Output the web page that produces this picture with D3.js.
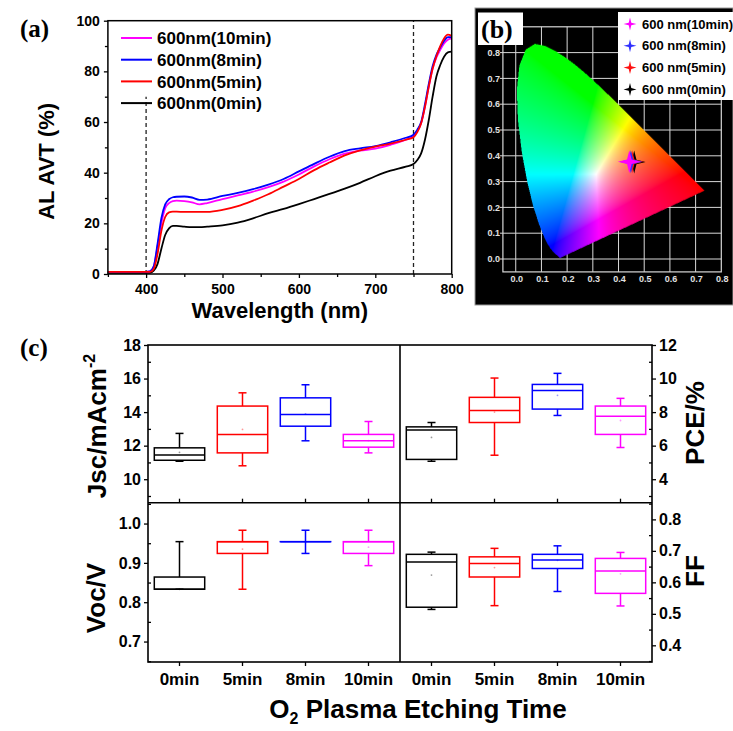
<!DOCTYPE html>
<html>
<head>
<meta charset="utf-8">
<script src="https://cdn.jsdelivr.net/npm/d3@7"></script>
<style>
  body { margin: 0; background: #fff; }
  svg text { font-family: Arial, "Liberation Sans", sans-serif; font-weight: bold; }
</style>
</head>
<body>
<svg id="fig" width="733" height="731"></svg>
<script>
// ---------- Data: (a) transmittance spectra ----------
const wavelength = [350, 380, 400, 405, 410, 415, 420, 425, 430, 435, 440, 450, 460, 470, 480, 500, 520, 540, 560, 580, 600, 620, 640, 660, 680, 700, 720, 740, 750, 755, 760, 765, 770, 775, 780, 785, 790, 795, 800];
const avt0min = [0.5, 0.5, 0.5, 0.5, 1.3, 4, 10, 15.4, 18, 19, 19, 18.7, 18.5, 18.5, 18.7, 19.2, 20.3, 22, 24, 25.7, 27.6, 29.6, 31.6, 33.7, 36, 38.6, 40.8, 42.4, 43.4, 45, 47.6, 53, 60.8, 70, 78, 82.5, 85.8, 87.5, 87.8];
const avt5min = [0.8, 0.8, 0.8, 0.8, 2, 8, 17, 22.5, 24.3, 24.6, 24.6, 24.5, 24.5, 24.5, 24.5, 25.3, 26.8, 29, 31.5, 34.5, 37.5, 41, 44, 46.8, 48.8, 50.3, 51.5, 53, 54, 56, 59.5, 66, 74, 81, 86, 90, 93, 94.5, 94];
const avt8min = [0.8, 0.8, 0.8, 1, 3, 12, 22, 27.5, 29.5, 30.3, 30.5, 30.6, 30.2, 29.3, 29.4, 30.8, 32, 33.5, 35.3, 37.5, 40.5, 43.5, 46.3, 48.5, 49.6, 50.5, 52, 53.8, 55, 57, 60, 67, 75, 82, 86.5, 89.5, 92, 93.5, 93.5];
const avt10min = [0.8, 0.8, 0.8, 1, 3, 11, 20, 26, 28, 28.8, 29, 28.8, 28.3, 27.5, 28, 29.6, 31, 32.5, 34.3, 36.5, 39.3, 42.5, 45.3, 47.5, 48.7, 49.5, 51, 53, 54.5, 56.5, 59.5, 66, 74, 81, 85.5, 88.5, 91, 92.5, 93];
const avtNames = ["600nm(10min)", "600nm(8min)", "600nm(5min)", "600nm(0min)"];
const avtColors = ["#ff00ff", "#0000ff", "#ff0000", "#000000"];
const avtSeries = [avt10min, avt8min, avt5min, avt0min];
const markedWavelengths = [400, 750];
const markedTop = [70, 100];

// ---------- Data: (b) CIE 1931 chromaticity ----------
const locusX = [0.1741, 0.1733, 0.1714, 0.1689, 0.1644, 0.1566, 0.1440, 0.1355, 0.1241, 0.1096, 0.0913, 0.0687, 0.0454, 0.0235, 0.0082, 0.0039, 0.0139, 0.0389, 0.0743, 0.1142, 0.1547, 0.1929, 0.2296, 0.2658, 0.3016, 0.3373, 0.3731, 0.4087, 0.4441, 0.4788, 0.5125, 0.5448, 0.5752, 0.6029, 0.6270, 0.6658, 0.6915, 0.7079, 0.7190, 0.7260, 0.7347];
const locusY = [0.0050, 0.0048, 0.0051, 0.0069, 0.0109, 0.0177, 0.0297, 0.0399, 0.0578, 0.0868, 0.1327, 0.2007, 0.2950, 0.4127, 0.5384, 0.6548, 0.7502, 0.8120, 0.8338, 0.8262, 0.8059, 0.7816, 0.7543, 0.7243, 0.6923, 0.6589, 0.6245, 0.5896, 0.5547, 0.5202, 0.4866, 0.4544, 0.4242, 0.3965, 0.3725, 0.3340, 0.3083, 0.2920, 0.2809, 0.2740, 0.2653];
const cieNames = ["600 nm(10min)", "600 nm(8min)", "600 nm(5min)", "600 nm(0min)"];
const cieColors = ["#ff00ff", "#3030ff", "#ff1010", "#000000"];
const cieX = [0.442, 0.448, 0.453, 0.461];
const cieY = [0.377, 0.377, 0.377, 0.376];
const cieTicks = [0, 0.1, 0.2, 0.3, 0.4, 0.5, 0.6, 0.7, 0.8];

// ---------- Data: (c) device parameters ----------
const etchTimes = ["0min", "5min", "8min", "10min"];
const boxColors = ["#000000", "#ff0000", "#0000ff", "#ff00ff"];

const jscLow = [11.07, 10.8, 12.29, 11.57];
const jscQ1 = [11.13, 11.57, 13.16, 11.91];
const jscMed = [11.45, 12.67, 13.86, 12.29];
const jscQ3 = [11.87, 14.36, 14.85, 12.67];
const jscHigh = [12.73, 15.15, 15.63, 13.44];
const jscMean = [11.6, 12.97, 13.9, 12.3];

const pceLow = [5.07, 5.43, 7.8, 5.89];
const pceQ1 = [5.18, 7.38, 8.18, 6.67];
const pceMed = [6.93, 8.1, 9.29, 7.76];
const pceQ3 = [7.12, 8.88, 9.65, 8.36];
const pceHigh = [7.38, 10.03, 10.31, 8.82];
const pceMean = [6.49, 8.0, 9.0, 7.5];

const vocLow = [0.833, 0.833, 0.924, 0.893];
const vocQ1 = [0.833, 0.924, 0.954, 0.924];
const vocMed = [0.833, 0.954, 0.954, 0.954];
const vocQ3 = [0.864, 0.954, 0.954, 0.954];
const vocHigh = [0.954, 0.983, 0.983, 0.983];
const vocMean = [0.833, 0.935, 0.954, 0.94];

const ffLow = [0.514, 0.526, 0.571, 0.525];
const ffQ1 = [0.521, 0.617, 0.644, 0.565];
const ffMed = [0.665, 0.66, 0.671, 0.636];
const ffQ3 = [0.689, 0.681, 0.689, 0.676];
const ffHigh = [0.696, 0.708, 0.716, 0.695];
const ffMean = [0.623, 0.647, 0.67, 0.627];

const svg = d3.select("#fig");

function styleAxis(g, size) {
  g.select(".domain").remove();
  g.selectAll(".tick line").attr("stroke", "#000").attr("stroke-width", 1.3);
  g.selectAll(".tick text").attr("font-size", size).attr("font-weight", "bold").attr("fill", "#000");
}

// ================= Panel (a) =================
const xA = d3.scaleLinear().domain([350, 800]).range([107.9, 451.7]);
const yA = d3.scaleLinear().domain([0, 100]).range([274, 20.7]);
const gA = svg.append("g");

gA.append("g").attr("transform", `translate(0,${yA(0)})`)
  .call(d3.axisBottom(xA).tickValues([400, 500, 600, 700, 800]).tickSize(4).tickPadding(6))
  .call(g => styleAxis(g, 14));
gA.append("g").attr("transform", `translate(0,${yA(0)})`)
  .call(d3.axisBottom(xA).tickValues([350, 450, 550, 650, 750]).tickSize(3).tickFormat(""))
  .call(g => styleAxis(g, 14));
gA.append("g").attr("transform", `translate(${xA(350)},0)`)
  .call(d3.axisLeft(yA).tickValues([0, 20, 40, 60, 80, 100]).tickSize(4).tickPadding(4))
  .call(g => styleAxis(g, 14));
gA.append("g").attr("transform", `translate(${xA(350)},0)`)
  .call(d3.axisLeft(yA).tickValues([10, 30, 50, 70, 90]).tickSize(3).tickFormat(""))
  .call(g => styleAxis(g, 14));

// dashed markers
gA.selectAll(".mark").data(markedWavelengths).enter().append("line")
  .attr("x1", d => xA(d)).attr("x2", d => xA(d))
  .attr("y1", yA(0)).attr("y2", (d, i) => yA(markedTop[i]))
  .attr("stroke", "#222").attr("stroke-width", 1.3).attr("stroke-dasharray", "4,3");

const lineA = d3.line().x((d, i) => xA(wavelength[i])).y(d => yA(d)).curve(d3.curveMonotoneX);
[3, 0, 1, 2].forEach(i => {
  gA.append("path").attr("d", lineA(avtSeries[i]))
    .attr("fill", "none").attr("stroke", avtColors[i]).attr("stroke-width", 1.8);
});

gA.append("rect").attr("x", xA(350)).attr("y", yA(100))
  .attr("width", xA(800) - xA(350)).attr("height", yA(0) - yA(100))
  .attr("fill", "none").attr("stroke", "#000").attr("stroke-width", 1.5);

const legA = gA.selectAll(".legA").data(avtNames).enter().append("g")
  .attr("transform", (d, i) => `translate(121,${38 + i * 21.7})`);
legA.append("line").attr("x1", 0).attr("x2", 31)
  .attr("stroke", (d, i) => avtColors[i]).attr("stroke-width", 2);
legA.append("text").attr("x", 36).attr("dy", "0.36em").attr("font-size", 17).text(d => d);

gA.append("text").attr("x", xA(575)).attr("y", 318).attr("text-anchor", "middle")
  .attr("font-size", 22).text("Wavelength (nm)");
gA.append("text").attr("transform", `translate(46,${yA(50) + 14}) rotate(-90)`)
  .attr("text-anchor", "middle").attr("dy", "0.36em").attr("font-size", 22).text("AL AVT (%)");
svg.append("text").attr("x", 20).attr("y", 37).attr("font-size", 25)
  .style("font-family", "'Liberation Serif', 'Times New Roman', serif").text("(a)");

// ================= Panel (b) =================
const gB = svg.append("g");
gB.append("rect").attr("x", 475).attr("y", 8).attr("width", 258).attr("height", 297)
  .attr("fill", "#000").attr("stroke", "#999").attr("stroke-width", 1);

const xC = d3.scaleLinear().domain([-0.05, 0.8]).range([502.9, 721.3]);
const yC = d3.scaleLinear().domain([-0.05, 0.9]).range([271.9, 26.8]);
const gridCol = "#d8d8d8";

// grid
gB.selectAll(".vg").data(cieTicks.slice(0, 8)).enter().append("line")
  .attr("x1", d => xC(d)).attr("x2", d => xC(d)).attr("y1", yC(-0.05)).attr("y2", yC(0.9))
  .attr("stroke", gridCol).attr("stroke-width", 1);
gB.selectAll(".hg").data(cieTicks).enter().append("line")
  .attr("x1", xC(-0.05) - 3).attr("x2", xC(0.8)).attr("y1", d => yC(d)).attr("y2", d => yC(d))
  .attr("stroke", gridCol).attr("stroke-width", 1);
gB.append("rect").attr("x", xC(-0.05)).attr("y", yC(0.9))
  .attr("width", xC(0.8) - xC(-0.05)).attr("height", yC(-0.05) - yC(0.9))
  .attr("fill", "none").attr("stroke", gridCol).attr("stroke-width", 1.2);

// gamut fill
(function drawGamut() {
  const x0 = xC.range()[0], y0 = yC.range()[1];
  const cw = Math.ceil(xC.range()[1] - x0), ch = Math.ceil(yC.range()[0] - y0);
  const ss = 2;
  const canvas = document.createElement("canvas");
  canvas.width = cw * ss; canvas.height = ch * ss;
  const ctx = canvas.getContext("2d");
  const img = ctx.createImageData(cw * ss, ch * ss);
  const poly = locusX.map((v, i) => [v, locusY[i]]);
  const gam = v => Math.round(255 * Math.pow(Math.max(0, Math.min(1, v)), 1 / 1.5));
  for (let j = 0; j < ch * ss; j++) {
    for (let i = 0; i < cw * ss; i++) {
      const xv = xC.invert(x0 + (i + 0.5) / ss), yv = yC.invert(y0 + (j + 0.5) / ss);
      if (yv <= 0.001 || !d3.polygonContains(poly, [xv, yv])) continue;
      const X = xv / yv, Y = 1, Z = (1 - xv - yv) / yv;
      let r = 3.2406 * X - 1.5372 * Y - 0.4986 * Z;
      let g = -0.9689 * X + 1.8758 * Y + 0.0415 * Z;
      let b = 0.0557 * X - 0.2040 * Y + 1.0570 * Z;
      r = Math.max(0, r); g = Math.max(0, g); b = Math.max(0, b);
      const m = Math.max(r, g, b) || 1;
      const k = 4 * (j * cw * ss + i);
      img.data[k] = gam(r / m); img.data[k + 1] = gam(g / m); img.data[k + 2] = gam(b / m);
      img.data[k + 3] = 255;
    }
  }
  ctx.putImageData(img, 0, 0);
  gB.append("image").attr("href", canvas.toDataURL())
    .attr("x", x0).attr("y", y0).attr("width", cw).attr("height", ch);
})();

const labFont = "'Liberation Sans Narrow', 'Arial Narrow', Arial, sans-serif";
gB.selectAll(".xl").data(cieTicks).enter().append("text")
  .attr("x", d => xC(d) + 1).attr("y", 282).attr("text-anchor", "middle")
  .attr("font-size", 9).attr("fill", "#e0e0e0").style("font-family", labFont)
  .text(d => d.toFixed(1));
gB.selectAll(".yl").data(cieTicks).enter().append("text")
  .attr("x", xC(-0.05) - 3).attr("y", d => yC(d)).attr("dy", "0.36em").attr("text-anchor", "end")
  .attr("font-size", 9).attr("fill", "#e0e0e0").style("font-family", labFont)
  .text(d => d.toFixed(1));

const star4 = {
  draw(context, size) {
    const r = Math.sqrt(size), ri = r * 0.2;
    context.moveTo(0, -r); context.lineTo(ri, -ri); context.lineTo(r, 0); context.lineTo(ri, ri);
    context.lineTo(0, r); context.lineTo(-ri, ri); context.lineTo(-r, 0); context.lineTo(-ri, -ri);
    context.closePath();
  }
};
[3, 2, 1, 0].forEach(i => {
  gB.append("path").attr("d", d3.symbol().type(star4).size(130)())
    .attr("transform", `translate(${xC(cieX[i])},${yC(cieY[i])})`)
    .attr("fill", cieColors[i]);
});

// legend (b)
gB.append("rect").attr("x", 618).attr("y", 12).attr("width", 120).attr("height", 88)
  .attr("fill", "#fff");
const legB = gB.selectAll(".legB").data(cieNames).enter().append("g")
  .attr("transform", (d, i) => `translate(630,${24 + i * 21.8})`);
legB.append("path").attr("d", d3.symbol().type(star4).size(42)())
  .attr("fill", (d, i) => cieColors[i]);
legB.append("text").attr("x", 12).attr("dy", "0.36em").attr("font-size", 13).text(d => d);

gB.append("rect").attr("x", 478).attr("y", 12.5).attr("width", 45).attr("height", 32.5).attr("fill", "#fff");
gB.append("text").attr("x", 481).attr("y", 38).attr("font-size", 26)
  .style("font-family", "'Liberation Serif', 'Times New Roman', serif").text("(b)");

// ================= Panel (c) =================
const gC = svg.append("g");
const xLeft = d3.scaleBand().domain(etchTimes).range([148, 400]);
const xRight = d3.scaleBand().domain(etchTimes).range([400, 652]);
const yTop = [502.7, 345], yBot = [662, 502.7];

const panels = [
  { x: xLeft, yr: yTop, dom: [8.6, 18], major: [10, 12, 14, 16, 18], minor: [9, 11, 13, 15, 17], fmt: d3.format("d"), side: "left",
    low: jscLow, q1: jscQ1, med: jscMed, q3: jscQ3, high: jscHigh, mean: jscMean },
  { x: xRight, yr: yTop, dom: [2.6, 12], major: [4, 6, 8, 10, 12], minor: [3, 5, 7, 9, 11], fmt: d3.format("d"), side: "right",
    low: pceLow, q1: pceQ1, med: pceMed, q3: pceQ3, high: pceHigh, mean: pceMean },
  { x: xLeft, yr: yBot, dom: [0.648, 1.053], major: [0.7, 0.8, 0.9, 1.0], minor: [0.65, 0.75, 0.85, 0.95, 1.05], fmt: d3.format(".1f"), side: "left",
    low: vocLow, q1: vocQ1, med: vocMed, q3: vocQ3, high: vocHigh, mean: vocMean },
  { x: xRight, yr: yBot, dom: [0.347, 0.853], major: [0.4, 0.5, 0.6, 0.7, 0.8], minor: [0.35, 0.45, 0.55, 0.65, 0.75, 0.85], fmt: d3.format(".1f"), side: "right",
    low: ffLow, q1: ffQ1, med: ffMed, q3: ffQ3, high: ffHigh, mean: ffMean }
];

panels.forEach((p, pi) => {
  const y = d3.scaleLinear().domain(p.dom).range(p.yr);
  const ax = p.side === "left" ? d3.axisLeft : d3.axisRight;
  const xPos = p.side === "left" ? 148 : 652;
  gC.append("g").attr("transform", `translate(${xPos},0)`)
    .call(ax(y).tickValues(p.major).tickFormat(p.fmt).tickSize(4).tickPadding(3))
    .call(g => styleAxis(g, 16));
  gC.append("g").attr("transform", `translate(${xPos},0)`)
    .call(ax(y).tickValues(p.minor).tickFormat("").tickSize(-3))
    .call(g => styleAxis(g, 16));

  // category ticks on the bottom edge of each panel
  const bottom = p.yr[0];
  const up = pi < 2 ? -4 : 4;
  gC.selectAll(null).data(etchTimes).enter().append("line")
    .attr("x1", d => p.x(d) + p.x.bandwidth() / 2).attr("x2", d => p.x(d) + p.x.bandwidth() / 2)
    .attr("y1", bottom).attr("y2", bottom + up).attr("stroke", "#000").attr("stroke-width", 1.3);

  const bw = p.x.bandwidth() * 0.8, cap = 8;
  const box = gC.selectAll(null).data(etchTimes).enter().append("g")
    .attr("transform", d => `translate(${p.x(d) + p.x.bandwidth() / 2},0)`)
    .attr("stroke", (d, i) => boxColors[i]).attr("stroke-width", 1.5).attr("fill", "none");
  box.append("line").attr("y1", (d, i) => y(p.q3[i])).attr("y2", (d, i) => y(p.high[i]));
  box.append("line").attr("y1", (d, i) => y(p.q1[i])).attr("y2", (d, i) => y(p.low[i]));
  box.append("line").attr("x1", -cap / 2).attr("x2", cap / 2)
    .attr("y1", (d, i) => y(p.high[i])).attr("y2", (d, i) => y(p.high[i]));
  box.append("line").attr("x1", -cap / 2).attr("x2", cap / 2)
    .attr("y1", (d, i) => y(p.low[i])).attr("y2", (d, i) => y(p.low[i]));
  box.append("rect").attr("x", -bw / 2).attr("width", bw)
    .attr("y", (d, i) => y(p.q3[i])).attr("height", (d, i) => Math.max(0.01, y(p.q1[i]) - y(p.q3[i])));
  box.append("line").attr("x1", -bw / 2).attr("x2", bw / 2)
    .attr("y1", (d, i) => y(p.med[i])).attr("y2", (d, i) => y(p.med[i]));
  box.append("circle").attr("r", 0.9).attr("cy", (d, i) => y(p.mean[i]))
    .attr("stroke", "none").attr("fill", (d, i) => boxColors[i]).attr("opacity", 0.4);
});

// frame and dividers
gC.append("rect").attr("x", 148).attr("y", 345).attr("width", 504).attr("height", 317)
  .attr("fill", "none").attr("stroke", "#000").attr("stroke-width", 1.6);
gC.append("line").attr("x1", 400).attr("x2", 400).attr("y1", 345).attr("y2", 662)
  .attr("stroke", "#000").attr("stroke-width", 1.6);
gC.append("line").attr("x1", 148).attr("x2", 652).attr("y1", 502.7).attr("y2", 502.7)
  .attr("stroke", "#000").attr("stroke-width", 1.6);

// category labels
[xLeft, xRight].forEach(sc => {
  gC.selectAll(null).data(etchTimes).enter().append("text")
    .attr("x", d => sc(d) + sc.bandwidth() / 2).attr("y", 685)
    .attr("text-anchor", "middle").attr("font-size", 17).text(d => d);
});

// axis titles
const jscT = gC.append("text").attr("transform", "translate(97,426) rotate(-90)")
  .attr("text-anchor", "middle").attr("dy", "0.36em").attr("font-size", 26);
jscT.append("tspan").text("Jsc/mAcm");
jscT.append("tspan").attr("font-size", 16).attr("dy", -11).text("-2");
gC.append("text").attr("transform", "translate(96,598) rotate(-90)")
  .attr("text-anchor", "middle").attr("dy", "0.36em").attr("font-size", 26).text("Voc/V");
gC.append("text").attr("transform", "translate(695,423) rotate(-90)")
  .attr("text-anchor", "middle").attr("dy", "0.36em").attr("font-size", 26).text("PCE/%");
gC.append("text").attr("transform", "translate(695,571) rotate(-90)")
  .attr("text-anchor", "middle").attr("dy", "0.36em").attr("font-size", 26).text("FF");

const oT = gC.append("text").attr("x", 418).attr("y", 718).attr("text-anchor", "middle").attr("font-size", 26);
oT.append("tspan").text("O");
oT.append("tspan").attr("font-size", 16).attr("dy", 6).text("2");
oT.append("tspan").attr("dy", -6).text(" Plasma Etching Time");

svg.append("text").attr("x", 20).attr("y", 356).attr("font-size", 25)
  .style("font-family", "'Liberation Serif', 'Times New Roman', serif").text("(c)");
</script>
</body>
</html>
